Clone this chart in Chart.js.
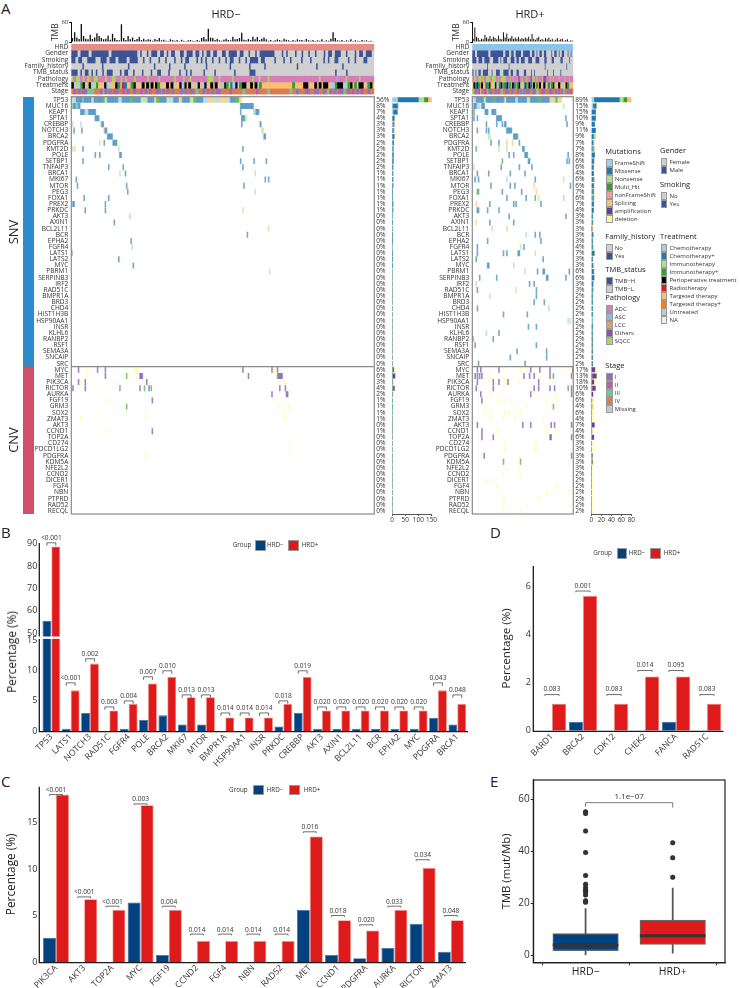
<!doctype html>
<html><head><meta charset="utf-8">
<style>
html,body{margin:0;padding:0;background:#fff}
body{width:740px;height:988px;position:relative;overflow:hidden;font-family:'Open Sans',sans-serif;color:#222}
canvas{position:absolute}
.t{position:absolute;white-space:nowrap;line-height:1}
.s{position:absolute;box-sizing:border-box;border:.5px solid #999}
</style>
<script src="https://cdn.jsdelivr.net/npm/chart.js@4"></script>
</head><body>
<script>
// ---------- Panel A data ----------
const snvGenes=["TP53","MUC16","KEAP1","SPTA1","CREBBP","NOTCH3","BRCA2","PDGFRA","KMT2D","POLE","SETBP1","TNFAIP3","BRCA1","MKI67","MTOR","PEG3","FOXA1","PREX2","PRKDC","AKT3","AXIN1","BCL2L11","BCR","EPHA2","FGFR4","LATS1","LATS2","MYC","PBRM1","SERPINB3","IRF2","RAD51C","BMPR1A","BRD3","CHD4","HIST1H3B","HSP90AA1","INSR","KLHL6","RANBP2","RSF1","SEMA3A","SNCAIP","SRC"];
const cnvGenes=["MYC","MET","PIK3CA","RICTOR","AURKA","FGF19","GRM3","SOX2","ZMAT3","AKT3","CCND1","TOP2A","CD274","PDCD1LG2","PDGFRA","KDM5A","NFE2L2","CCND2","DICER1","FGF4","NBN","PTPRD","RAD52","RECQL"];
const pctNeg=[56,8,7,4,3,3,3,2,2,2,2,2,1,1,1,1,1,1,1,0,0,0,0,0,0,0,0,0,0,0,0,0,0,0,0,0,0,0,0,0,0,0,0,0,6,6,3,4,2,1,1,1,1,0,1,0,0,0,0,0,0,0,0,0,0,0,0,0];
const pctPos=[89,15,15,10,9,11,9,7,7,8,6,6,4,6,6,7,6,7,4,3,3,3,3,3,4,7,3,3,6,6,3,3,2,2,2,2,2,2,2,2,2,2,2,2,17,13,18,10,6,6,4,6,4,7,4,6,3,3,3,3,3,2,2,2,2,2,2,2];
const patientsNeg=271, patientsPos=89;
const tmbNeg=[12,30,14,9,55,18,10,8,22,9,14,27,18,12,8,10,20,7,25,12,6,5,54,12,6,18,8,14,6,9,15,6,10,5,8,7,4,9,6,12,5,7,4,3,8,5,4,6,3,7,4,3,5,6,4,3,6,4,12,15,8,40,14,12,6,9,5,4,7,10,6,5,16,8,9,12,28,7,5,9,6,16,8,15,6,10,14,8,4,6,3,5,8,6,4,10,7,5,3,6,4,8,5,6,4,9,5,4,6,3,5,4,8,3,5,4,10,30,12,5,4,6,3,5,4,8,3,5,4,3,6,4,5,3,4,2];
const tmbPos=[10,44,16,12,6,10,8,22,14,10,18,9,16,12,8,20,10,8,30,14,26,10,12,18,9,14,10,16,8,12,9,14,11,16,8,24,10,7,12,16,6,9,5,12,8,14,6,10,4,7,12,5,8,10,4,6,8,3,5,4];
const trackNames=["HRD","Gender","Smoking","Family_history","TMB_status","Pathology","Treatment","Stage"];
const genderNeg="bbbgbbbbgbbbbbbbbgbbbbbbbbbbbbgbggbgbbbgbbgbgbbggbbgbbbgbbgbgbbgbbgg"+"bbgbbbbgbbggbggbgbbbbbbbgggbgbgggbggbggbggbgggbgbbgbbbggbgggbgbbgbbbg";
const smokingNeg="bbgbbggbbbbggbbbgbbbgbbbbgbbbbggbggbgggbggbgggbggbgbbgggbgbgbggbggbg"+"gbgbbggbggbgbbbbgbbggggbgggbggbggggbgggbgggggbgbggbbggggbggbgggbbggg";
const familyNeg="gggggbggggggggbgggggggggggbgggggggggggbggggggbggggggbgggggggggbggggggg"+"gggbggggggggbggggggbggggggggggggggbggggggggbgggggggggggbgggggggggggggg";
const statusNeg="bbbgbgbbgbgbggbgbbbgggbgbbggbgggbgggbggbbgggbggggbggbgbgggggbggggbgg"+"ggggggbggggggbbbggggggggggggggggggggggggggggggggggggbggggbgggggggggggg";
const pathologyNeg="qaqqaqaqlaqqaaaqaaqqaaqaqaaaqaaaaaqaaaaqaaaaaaqaaaqaaqaaaaaaaqqqaaqa"+"aaaaqaaaaaaaaqaaqaaaqaaaaaaaaaaaaaaaaaaaaaaqaaaaaaasaaaqaaaaaqaaaaaa";
const treatmentNeg="pgicIpgtpciItgtpcgttpIgrCtgIptgtptpgptpItgtptpgttpcptpgtcptcpgtptpgt"+"cpItCcpgIppgtptpgIttttttttttttttIttttpptgtptptpptgcIpppcgIptItpptgIpt";
const stageNeg="42414213334442314142144241441442414244214142414441414214344142414214"+"44424444434444424444344444444434414442144214414324142134142414244144";
const genderPos="bbgbbbbbbbbgbbbbbbbbbgbbbgbbgbbbbgbbbbbgbbgbgbbgbbgggbgbbgbgbbggbgbg";
const smokingPos="bbbgbbbgbbbbggbbbbgbgbbbggbbbgbbgbbbggbbbggbbbgggbbgggbbggggbbggggbgg";
const familyPos="ggggggggggbggggggggggggggbggggggggggggggggggggggggbggggggggggggggbgggg";
const statusPos="bgbgbbgbbbbggbggbbbggbbbbgbbggbbgggbbgggbgbggggggggbgggbggggbgggggggg";
const pathologyPos="aqqaqqlqaqqqaqqqaqaqqqqaaqaqaaqoaqaaqaaoqqaqaaaqooaaqaqaaaqaaaqaaqaa";
const treatmentPos="tpCpItpgtCIpttipgtCptICpgItpCtIpgtcpItpCgptItptgpgtCtIptgtptcgtpItgt";
const stagePos="34142m4424312441424344214414442413142144213m44214441244142413441424";

// Oncoplot events: [row, first patient, number of patients (default 1)]
const negFrameShift=[[0,0,4],[0,18,2],[0,42,3],[0,66,2],[0,88,3],[0,118,4],[0,130,3],[1,4,2],[2,12,3],[2,163,1],[4,8],[24,54]];
const negMissense=[[0,4,6],[0,11,7],[0,20,8],[0,32,10],[0,45,7],[0,55,7],[0,68,6],[0,79,6],[0,91,5],[0,99,7],[0,112,6],[0,142,4],[1,2,6],[1,151,12],[2,8,4],[2,15,7],[2,151],[2,165,3],[3,21,4],[3,152,3],[4,27,2],[4,152],[4,169],[5,2],[5,9],[5,30,2],[6,32,5],[6,172,2],[7,29],[7,37,4],[8,10],[8,153],[9,21],[9,25],[9,43,2],[10,10],[10,151],[10,163],[10,174],[11,33],[11,46],[11,153],[12,48],[13,4],[13,173],[13,176],[14,5],[14,49],[14,154],[15,50],[16,11],[16,33],[17,1,2],[17,30],[18,12],[18,30],[20,38],[22,157],[23,53],[25,0],[26,42],[27,55]];
const negNonsense=[[0,10],[0,30,2],[0,62,4],[0,85,3],[0,106,3],[0,126,4],[0,138,4],[1,0],[2,163,2],[3,155,2],[4,26],[5,170],[5,171],[8,1],[8,3],[8,42],[12,43],[12,164],[15,164],[18,153],[28,177]];
const negMultiHit=[[0,28,2],[0,52,3],[0,76,3],[0,109,3],[0,146,4],[1,1],[45,49],[47,43],[47,65],[47,71],[45,184],[50,49]];
const negNonFrame=[[4,168],[5,29],[19,52]];
const negSplicing=[[0,74,2],[0,96,3],[0,122,4],[0,133,5],[0,150,2],[4,1],[7,25],[21,176]];
const negAmp=[[44,6],[44,23],[44,30],[44,153],[44,179],[44,184],[45,30],[45,61,3],[45,158],[45,185,4],[46,6],[46,12],[46,67],[47,1],[47,12],[47,61],[47,69],[47,186],[47,191],[48,179],[48,192,2],[49,72],[54,72]];
const negDeletion=[[44,13],[44,56,4],[44,180,3],[45,14],[45,52],[46,8],[46,66],[46,190],[49,31],[50,185],[50,194],[51,66],[51,190],[52,8],[52,66],[52,190],[54,31],[56,195],[57,195],[58,65]];
const posFrameShift=[[0,0,3],[0,38,2],[1,4,3],[11,1],[13,30],[22,47],[27,36],[30,3],[32,15],[34,67],[36,84],[36,86],[38,12]];
const posMissense=[[0,3,7],[0,12,6],[0,20,8],[0,30,8],[0,40,8],[0,51,7],[0,61,7],[1,1,3],[1,8,3],[2,1],[2,11,3],[2,17,4],[3,1],[3,4],[3,21,5],[3,82],[4,12],[4,21],[4,26],[4,28,2],[4,83],[5,4],[5,12],[5,14],[5,30,5],[6,36,4],[7,16],[7,23],[7,41],[8,44,2],[9,32],[9,36],[9,46,3],[9,84],[10,49,2],[10,83],[10,85],[11,25],[11,41],[11,52],[12,4],[12,14],[12,33],[12,46],[13,2],[13,5],[13,55],[14,16],[14,33],[14,37],[14,86],[15,26],[15,43],[16,30],[16,47],[17,15],[17,36],[17,38],[17,60],[18,4,2],[18,13],[18,23],[19,32],[19,82],[20,15],[20,36],[22,55],[22,59],[23,13],[23,60],[24,4],[24,45],[25,4],[25,27],[25,30],[25,40],[25,41],[26,3],[26,62],[27,13,2],[28,57],[28,62,2],[28,85],[29,6],[29,21],[29,65,2],[29,82],[30,50],[30,54],[31,4],[31,56],[32,56],[33,54],[33,63],[34,4],[35,27],[35,48],[37,49],[37,56],[38,23],[39,0],[39,18],[40,2],[40,56],[41,39],[41,65],[42,33],[42,65],[43,5],[43,46]];
const posNonsense=[[0,10,2],[0,48,3],[0,71,2],[0,78],[1,80],[6,14,2],[6,40],[8,23],[8,30],[13,80],[16,58],[24,42],[25,55],[31,38]];
const posMultiHit=[[0,18,2],[0,58,3],[0,73,2],[8,3],[10,26],[15,4,2],[16,55],[45,71],[47,84],[50,71],[59,27],[59,42]];
const posNonFrame=[[16,80]];
const posSplicing=[[0,28,2],[0,68,3],[0,75,3],[7,30],[7,35],[14,54],[15,56],[17,3],[20,3],[21,17],[21,30],[28,46]];
const posAmp=[[44,4],[44,7],[44,23],[44,51],[44,59],[44,68],[44,88],[45,2],[45,4],[45,6],[45,8],[45,45],[45,50],[45,54],[45,68],[45,87],[46,4],[46,18],[46,23],[46,31],[46,58],[47,3],[47,18],[47,54],[47,58],[47,68],[47,72],[47,87],[48,7],[48,51],[48,87],[49,8],[53,4],[53,44],[53,51],[53,69],[53,72],[53,87],[54,8],[55,8],[55,18],[55,68,2],[55,87],[58,10],[58,87]];
const posDeletion=[[44,27],[44,42],[44,47],[44,86],[45,15],[46,14],[46,28],[46,30],[46,41],[46,62],[48,16],[48,73],[49,21],[49,28],[49,65],[49,74],[50,11],[50,36],[50,48],[51,11],[51,16],[51,28],[51,32],[51,42],[52,16],[52,27],[52,37],[52,62],[54,21],[54,65],[54,74],[56,28],[56,55],[56,57],[57,28],[57,55],[57,57],[58,41],[59,85],[60,29],[60,41],[61,27],[61,42],[62,11],[62,16],[63,21],[63,74],[64,65],[64,85],[65,28],[65,58],[66,27],[66,85],[67,27],[67,42]];

// ---------- Panel B/C/D/E data ----------
const genesB=["TP53","LATS1","NOTCH3","RAD51C","FGFR4","POLE","BRCA2","MKI67","MTOR","BMPR1A","HSP90AA1","INSR","PRKDC","CREBBP","AKT3","AXIN1","BCL2L11","BCR","EPHA2","MYC","PDGFRA","BRCA1"];
const negB=[55.6,.37,3,0,.37,1.85,2.6,1.1,1.1,0,0,0,.74,3,.37,.37,.37,.37,.37,.37,2.2,1.1];
const posB=[88.8,6.75,11.2,3.4,4.5,7.9,9,5.6,5.6,2.25,2.25,2.25,4.5,9,3.4,3.4,3.4,3.4,3.4,3.4,6.75,4.5];
const pB=["<0.001","<0.001","0.002","0.003","0.004","0.007","0.010","0.013","0.013","0.014","0.014","0.014","0.018","0.019","0.020","0.020","0.020","0.020","0.020","0.020","0.043","0.048"];
const bracketB=[90.5,8,12,4,5,9,10,6,6,3,3,3,5,10,4,4,4,4,4,4,8,6];
const genesC=["PIK3CA","AKT3","TOP2A","MYC","FGF19","CCND2","FGF4","NBN","RAD52","MET","CCND1","PDGFRA","AURKA","RICTOR","ZMAT3"];
const negC=[2.6,0,0,6.4,.75,0,0,0,0,5.6,.75,.4,1.5,4.1,1.1];
const posC=[18,6.75,5.6,16.85,5.6,2.25,2.25,2.25,2.25,13.5,4.5,3.4,5.6,10.1,4.5];
const pC=["<0.001","<0.001","<0.001","0.003","0.004","0.014","0.014","0.014","0.014","0.016","0.018","0.020","0.033","0.034","0.048"];
const bracketC=[18,7,6,17,6,3,3,3,3,14,5,4,6,11,5];
const genesD=["BARD1","BRCA2","CDK12","CHEK2","FANCA","RAD51C"];
const negD=[0,.37,0,0,.37,0];
const posD=[1.12,5.6,1.12,2.25,2.25,1.12];
const pD=["0.083","0.001","0.083","0.014","0.095","0.083"];
const bracketD=[1.5,5.8,1.5,2.5,2.5,1.5];
const groupsE=["HRD−","HRD+"];
const q1E=[1.8,4.2], medianE=[4,7.5], q3E=[8.3,13.5], whiskerLowE=[0,.8], whiskerHighE=[18,25.8];
const outliersNegE=[55.2,54.5,47.8,39.5,30.7,27.3,26,25,24.3,23.2,21,20.4];
const outliersPosE=[43.3,37.5,30];
const pE="1.1e−07", bracketE=58.7;

// ---------- Colours ----------
const BLUE='#03417F', RED='#DF1A1A';
const typeColors={FrameShift:'#A6CEE3',Missense:'#1F78B4',Nonsense:'#B2DF8A',Multi_Hit:'#33A02C',nonFrameShift:'#FB9A99',Splicing:'#FDBF6F',amplification:'#6A3D9A',deletion:'#FFFF99'};
const binary={g:'#D0D0D0',b:'#3C5396'};
const pathCol={a:'#D77DB8',s:'#91B5E0',l:'#D9A562',o:'#8F52A5',q:'#A9D46A'};
const treatCol={c:'#A6CEE3',C:'#1F78B4',i:'#B2DF8A',I:'#33A02C',p:'#000000',r:'#E31A1C',t:'#FDBF6F',T:'#FF7F00',g:'#C8C8C8',n:'#F2EFE6'};
const stageCol={1:'#8676C0',2:'#BE5CA6',3:'#76C492',4:'#DB7B52',m:'#C9C9C9'};
const TXT='#333';
const FF="'Open Sans',sans-serif";

Chart.defaults.font.family=FF; Chart.defaults.color=TXT;

// ---------- helpers ----------
function t(text,x,y,size,o={}){
  const d=document.createElement('div'); d.className='t'; d.textContent=text;
  d.style.cssText=`left:${x}px;top:${y}px;font-size:${size}px;transform:${o.rot?'translate(-50%,-50%) rotate(-90deg)':(o.center?'translate(-50%,-50%)':'translateY(-50%)')};color:${o.color||'#222'}`;
  document.body.appendChild(d);
}
function sw(x,y,w,h,c){const d=document.createElement('div');d.className='s';d.style.cssText=`left:${x}px;top:${y-h/2}px;width:${w}px;height:${h}px;background:${c}`;document.body.appendChild(d);}
function mk(box,area,flags,build){
  const c=document.createElement('canvas');c.width=box.x1-box.x0;c.height=box.y1-box.y0;
  c.style.left=box.x0+'px';c.style.top=box.y0+'px';c.style.width=c.width+'px';c.style.height=c.height+'px';document.body.appendChild(c);
  const m={L:area.x0-box.x0,R:box.x1-area.x1,T:area.y0-box.y0,B:box.y1-area.y1};
  const cfg=build(m);
  cfg.options=Object.assign({responsive:false,animation:false,events:[],devicePixelRatio:1},cfg.options);
  cfg.options.layout={autoPadding:false,padding:{left:flags.left?0:m.L,right:flags.right?0:m.R,top:m.T,bottom:flags.bottom?0:m.B}};
  cfg.options.plugins=Object.assign({legend:{display:false},tooltip:{enabled:false}},cfg.options.plugins||{});
  return new Chart(c,cfg);
}
const noPad=s=>{s.paddingTop=0;s.paddingBottom=0;s.paddingLeft=0;s.paddingRight=0;};
const fixW=w=>s=>{s.width=w;noPad(s)}, fixH=h=>s=>{s.height=h;noPad(s)};
const at=vals=>s=>{s.ticks=vals.map(v=>({value:v}))};
const hide={display:false,drawTicks:false};
const noBorder={display:false};
const allGenes=snvGenes.concat(cnvGenes);
const rowIdx=allGenes.map((_,i)=>i);

function cells(list){const out=[];for(const [r,s,n=1] of list)for(let i=0;i<n;i++)out.push({x:[s+i+.08,s+i+.92],y:r});return out;}
function tally(list){const out=allGenes.map((_,i)=>({x:0,y:i}));for(const [r,,n=1] of list)out[r].x+=n;return out;}

// oncoplot chart
function onco(box,area,n,lists,pct){
  mk(box,area,{left:true,right:true,bottom:false},m=>({type:'bar',
    data:{datasets:Object.keys(typeColors).map((k,i)=>({label:k,data:cells(lists[i]),backgroundColor:typeColors[k]+'A0',borderWidth:0,barThickness:5.3,grouped:false}))},
    options:{indexAxis:'y',scales:{
      x:{type:'linear',min:0,max:n,display:false},
      y:{type:'linear',offset:false,min:-.5,max:67.5,reverse:true,position:'left',grid:hide,border:noBorder,afterFit:fixW(m.L),afterBuildTicks:at(rowIdx),
         ticks:{autoSkip:false,padding:3,font:{size:6.6},color:TXT,callback:v=>allGenes[v]}},
      y1:{type:'linear',offset:false,min:-.5,max:67.5,reverse:true,position:'right',grid:hide,border:noBorder,afterFit:fixW(m.R),afterBuildTicks:at(rowIdx),
         ticks:{autoSkip:false,padding:2,font:{size:6.6},color:TXT,callback:v=>pct[v]+'%'}}
    }},
    plugins:[{id:'frame',afterDatasetsDraw(c){const a=c.chartArea,x=c.ctx,yy=c.scales.y.getPixelForValue(snvGenes.length-.5);
      x.save();x.strokeStyle='#8a8a8a';x.lineWidth=1.2;x.strokeRect(a.left,a.top,a.width,a.height);x.beginPath();x.moveTo(a.left,yy);x.lineTo(a.right,yy);x.stroke();x.restore();}}]
  }));
}
function stackBars(box,area,maxV,tickVals,lists){
  mk(box,area,{left:false,right:false,bottom:true},m=>({type:'bar',
    data:{datasets:Object.keys(typeColors).map((k,i)=>({label:k,data:tally(lists[i]),backgroundColor:typeColors[k],borderWidth:0,barThickness:4.4}))},
    options:{indexAxis:'y',scales:{
      x:{type:'linear',min:0,max:maxV,stacked:true,afterFit:fixH(m.B),afterBuildTicks:at(tickVals),border:{color:'#555',width:1},grid:{drawOnChartArea:false,color:'#555',tickLength:2},ticks:{autoSkip:false,padding:0,font:{size:6.4},color:TXT,maxRotation:0}},
      y:{type:'linear',offset:false,min:-.5,max:67.5,reverse:true,stacked:true,display:false}
    }}
  }));
}
function tmbChart(box,area,vals){
  mk(box,area,{left:true,right:false,bottom:false},m=>({type:'bar',
    data:{labels:vals.map((_,i)=>i+1),datasets:[{label:'TMB',data:vals,backgroundColor:'#111',borderWidth:0,barPercentage:.6,categoryPercentage:1}]},
    options:{scales:{x:{display:false},
      y:{min:0,max:60,afterFit:fixW(m.L),afterBuildTicks:at([0,30,60]),grid:{drawOnChartArea:false,color:'#111',tickLength:2},border:{color:'#111'},
         title:{display:true,text:'TMB',font:{size:8.5},color:TXT,padding:{top:m.L-21,bottom:0}},ticks:{padding:1,font:{size:6},color:TXT}}}}
  }));
}
function trackChart(box,area,n,hrdColor,tracks){
  const ds=[{label:'HRD',data:[{x:[0,n],y:0}],backgroundColor:hrdColor,borderWidth:0,barThickness:5.8,grouped:false}];
  tracks.forEach(([str,col],row)=>{
    const w=n/str.length;
    Object.keys(col).forEach(code=>{
      const data=[];[...str].forEach((ch,i)=>{if(ch===code)data.push({x:[i*w,(i+1)*w],y:row+1});});
      if(data.length)ds.push({label:trackNames[row+1]+' '+code,data,backgroundColor:col[code],borderWidth:0,barThickness:6.3,grouped:false});
    });
  });
  mk(box,area,{left:true,right:false,bottom:false},m=>({type:'bar',data:{datasets:ds},
    options:{indexAxis:'y',scales:{x:{type:'linear',min:0,max:n,display:false},
      y:{type:'linear',offset:false,min:-.5,max:7.5,reverse:true,grid:hide,border:noBorder,afterFit:fixW(m.L),afterBuildTicks:at(trackNames.map((_,i)=>i)),
         ticks:{autoSkip:false,padding:3,font:{size:6.6},color:TXT,callback:v=>trackNames[v]}}}}
  }));
}
const listsNeg=[negFrameShift,negMissense,negNonsense,negMultiHit,negNonFrame,negSplicing,negAmp,negDeletion];
const listsPos=[posFrameShift,posMissense,posNonsense,posMultiHit,posNonFrame,posSplicing,posAmp,posDeletion];

// Panel A left
tmbChart({x0:30,y0:18,x1:376,y1:44},{x0:71.3,y0:22.3,x1:374.3,y1:42},tmbNeg);
trackChart({x0:0,y0:43,x1:376,y1:96},{x0:71.3,y0:44,x1:374.3,y1:94.4},patientsNeg,'#E58E86',[[genderNeg,binary],[smokingNeg,binary],[familyNeg,binary],[statusNeg,binary],[pathologyNeg,pathCol],[treatmentNeg,treatCol],[stageNeg,stageCol]]);
onco({x0:0,y0:92,x1:392,y1:518},{x0:71.3,y0:96.7,x1:374.3,y1:514},patientsNeg,listsNeg,pctNeg);
stackBars({x0:386,y0:92,x1:440,y1:526},{x0:392,y0:96.7,x1:431.5,y1:514},150,[0,50,100,150],listsNeg);
// Panel A right
tmbChart({x0:431,y0:18,x1:578,y1:44},{x0:472.3,y0:22.3,x1:573.3,y1:42},tmbPos);
trackChart({x0:400,y0:43,x1:578,y1:96},{x0:472.3,y0:44,x1:573.3,y1:94.4},patientsPos,'#8DC5E8',[[genderPos,binary],[smokingPos,binary],[familyPos,binary],[statusPos,binary],[pathologyPos,pathCol],[treatmentPos,treatCol],[stagePos,stageCol]]);
onco({x0:430,y0:92,x1:590,y1:518},{x0:472.3,y0:96.7,x1:573.3,y1:514},patientsPos,listsPos,pctPos);
stackBars({x0:586,y0:92,x1:638,y1:526},{x0:591.3,y0:96.7,x1:631.3,y1:514},80,[0,20,40,60,80],listsPos);

// text, sidebar, legends of A
t('A',1,8,15);t('B',1,532,15);t('C',1,781,15);t('D',490,532,15);t('E',490,781,15);
t('HRD−',226,13,11,{center:true});t('HRD+',530,13,11,{center:true});
t('SNV',13,232,13,{rot:true});t('CNV',13,440,13,{rot:true});
function bar(x,y0,y1,c){const d=document.createElement('div');d.className='s';d.style.cssText=`left:${x}px;top:${y0}px;width:11px;height:${y1-y0}px;background:${c};border:1px solid #777`;document.body.appendChild(d);}
bar(23.3,96.7,366.7,'#2B8BCB');bar(23.3,366.7,514,'#CF5068');
function legend(title,x,y,items,dy=8,ts=7.5){
  t(title,x,y,ts);
  items.forEach(([label,col],i)=>{const yy=y+11+i*dy;sw(x+.5,yy,6.8,8,col);t(label,x+9.5,yy,6,{color:'#333'});});
}
legend('Mutations',605.3,152,Object.keys(typeColors).map(k=>[k,typeColors[k]]));
legend('Gender',660,151,[['Female',binary.g],['Male',binary.b]]);
legend('Smoking',660,185,[['No',binary.g],['Yes',binary.b]]);
legend('Family_history',605.3,237,[['No',binary.g],['Yes',binary.b]]);
legend('Treatment',660,237,[['Chemotherapy',treatCol.c],['Chemotherapy+',treatCol.C],['Immunotherapy',treatCol.i],['Immunotherapy+',treatCol.I],['Perioperative treatment',treatCol.p],['Radiotherapy',treatCol.r],['Targeted therapy',treatCol.t],['Targeted therapy+',treatCol.T],['Untreated',treatCol.g],['NA',treatCol.n]]);
legend('TMB_status',605.3,270,[['TMB−H',binary.b],['TMB−L',binary.g]]);
legend('Pathology',605.3,298,[['ADC',pathCol.a],['ASC',pathCol.s],['LCC',pathCol.l],['Others',pathCol.o],['SQCC',pathCol.q]]);
legend('Stage',605.3,366,[['I',stageCol[1]],['II',stageCol[2]],['III',stageCol[3]],['IV',stageCol[4]],['Missing',stageCol.m]]);

// ---------- bar panels ----------
function barSet(label,data,col,edge,extra={}){return Object.assign({label,data,backgroundColor:col,borderColor:edge,borderWidth:.8,categoryPercentage:.92,barPercentage:1},extra);}
function axesPlugin(off){return {id:'axesL',afterDatasetsDraw(c){const a=c.chartArea,x=c.ctx;x.save();x.strokeStyle='#1a1a1a';x.lineWidth=1.3;x.beginPath();x.moveTo(a.left-off,a.top);x.lineTo(a.left-off,a.bottom+.6);x.lineTo(a.right+1,a.bottom+.6);x.stroke();x.restore();}};}
function bracketsPlugin(labels,ys,axisOf,drop,lift){return {id:'brackets',afterDatasetsDraw(c){
  const x=c.ctx,sx=c.scales.x,bw=sx.width/labels.length*.92/2;
  x.save();x.strokeStyle='#333';x.fillStyle='#333';x.lineWidth=.7;x.font="6.6px "+FF;x.textAlign='center';x.textBaseline='middle';
  labels.forEach((l,i)=>{const xc=sx.getPixelForValue(i),y=c.scales[axisOf(i)].getPixelForValue(ys[i]);
    x.beginPath();x.moveTo(xc-bw/2,y+drop);x.lineTo(xc-bw/2,y);x.lineTo(xc+bw/2,y);x.lineTo(xc+bw/2,y+drop);x.stroke();
    x.fillText(l,xc,y-lift);});
  x.restore();}};}
function groupLegend(y,xg,xs1,xt1,xs2,xt2){t('Group',xg,y,6.3,{color:'#333'});sw(xs1,y,10.8,10.8,BLUE);t('HRD−',xt1,y,6.3,{color:'#333'});sw(xs2,y,10.8,10.8,RED);t('HRD+',xt2,y,6.3,{color:'#333'});}

const xTicks={autoSkip:false,maxRotation:45,minRotation:45,padding:1,font:{size:8.6},color:TXT};
const yTicksBase={padding:4.4,font:{size:9},color:TXT};
const EDGE_B='#3A73AC',EDGE_R='#F28B82';

// Panel B (broken axis: two stacked scales)
const breakMin=48;
mk({x0:0,y0:530,x1:472,y1:772},{x0:41.7,y0:543,x1:467,y1:731},{left:true,right:false,bottom:true},m=>({type:'bar',
  data:{labels:genesB,datasets:[
    barSet('HRD−',negB,BLUE,EDGE_B,{yAxisID:'yLow',stack:'neg'}),
    barSet('HRD+',posB,RED,EDGE_R,{yAxisID:'yLow',stack:'pos'}),
    barSet('HRD− high',negB.map(v=>v>breakMin?v:null),BLUE,EDGE_B,{yAxisID:'yHigh',stack:'neg'}),
    barSet('HRD+ high',posB.map(v=>v>breakMin?v:null),RED,EDGE_R,{yAxisID:'yHigh',stack:'pos'})]},
  options:{scales:{
    x:{grid:hide,border:noBorder,afterFit:fixH(m.B),ticks:xTicks},
    yHigh:{type:'linear',min:breakMin,max:90.4,position:'left',stack:'y',stackWeight:94.7,weight:1,stacked:false,grid:hide,border:noBorder,afterFit:fixW(m.L),afterBuildTicks:at([50,60,70,80,90]),ticks:yTicksBase},
    yLow:{type:'linear',min:0,max:15.5,position:'left',stack:'y',stackWeight:93.3,weight:0,stacked:false,grid:hide,border:noBorder,afterFit:fixW(m.L),afterBuildTicks:at([0,5,10,15]),ticks:yTicksBase}
  }},
  plugins:[axesPlugin(2.4),{id:'seam',afterDatasetsDraw(c){const a=c.chartArea,x=c.ctx,y=c.scales.yLow.top;x.save();x.fillStyle='#fff';x.fillRect(a.left-5,y-1.2,a.width+6,2.4);x.restore();}},
    bracketsPlugin(pB,bracketB,i=>bracketB[i]>breakMin?'yHigh':'yLow',3,4.6)]
}));
t('Percentage (%)',12.3,651.7,11.8,{rot:true});
groupLegend(545.3,232.7,255,267,288.3,301.7);

// Panel C
mk({x0:0,y0:775,x1:470,y1:988},{x0:41.9,y0:786.7,x1:464.9,y1:962},{left:true,right:false,bottom:true},m=>({type:'bar',
  data:{labels:genesC,datasets:[barSet('HRD−',negC,BLUE,EDGE_B),barSet('HRD+',posC,RED,EDGE_R)]},
  options:{scales:{
    x:{grid:hide,border:noBorder,afterFit:fixH(m.B),ticks:xTicks},
    y:{type:'linear',min:0,max:18.85,grid:hide,border:noBorder,afterFit:fixW(m.L),afterBuildTicks:at([0,5,10,15]),ticks:yTicksBase,
       title:{display:true,text:'Percentage (%)',font:{size:11.8},color:'#222',padding:{top:5,bottom:0}}}
  }},
  plugins:[axesPlugin(2.6),bracketsPlugin(pC,bracketC,()=>'y',1.3,4.3)]
}));
groupLegend(790,229,253.3,266.7,289.3,303.7);

// Panel D
mk({x0:495,y0:560,x1:735,y1:772},{x0:536.5,y0:566,x1:722.5,y1:730.7},{left:true,right:false,bottom:true},m=>({type:'bar',
  data:{labels:genesD,datasets:[barSet('HRD−',negD,BLUE,EDGE_B),barSet('HRD+',posD,RED,EDGE_R)]},
  options:{scales:{
    x:{grid:hide,border:noBorder,afterFit:fixH(m.B),ticks:xTicks},
    y:{type:'linear',min:0,max:6.84,grid:hide,border:noBorder,afterFit:fixW(m.L),afterBuildTicks:at([0,2,4,6]),ticks:{padding:5.5,font:{size:9},color:TXT},
       title:{display:true,text:'Percentage (%)',font:{size:11.6},color:'#222',padding:{top:5,bottom:0}}}
  }},
  plugins:[axesPlugin(3.2),bracketsPlugin(pD,bracketD,()=>'y',1.3,5)]
}));
groupLegend(553.3,593.3,616.7,628.7,650.3,663.7);

// Panel E (box plot from floating bars + scatter)
const xE=[1,2];
mk({x0:495,y0:770,x1:735,y1:988},{x0:533.3,y0:780,x1:725,y1:962.7},{left:true,right:false,bottom:true},m=>({type:'bar',
  data:{datasets:[
    {type:'scatter',label:'HRD− outliers',data:outliersNegE.map(y=>({x:1,y})),backgroundColor:'#333',pointRadius:2.5,order:0},
    {type:'scatter',label:'HRD+ outliers',data:outliersPosE.map(y=>({x:2,y})),backgroundColor:'#333',pointRadius:2.5,order:0},
    {label:'median',data:xE.map((x,i)=>({x,y:[medianE[i]-.45,medianE[i]+.45]})),backgroundColor:'#333',borderWidth:0,barThickness:65,grouped:false,order:1},
    {label:'box',data:xE.map((x,i)=>({x,y:[q1E[i],q3E[i]]})),backgroundColor:[BLUE,RED],borderColor:'#666',borderWidth:1.1,borderSkipped:false,barThickness:65.5,grouped:false,order:2},
    {label:'whisker',data:xE.map((x,i)=>({x,y:[whiskerLowE[i],whiskerHighE[i]]})),backgroundColor:'#555',borderWidth:0,barThickness:1.1,grouped:false,order:3}]},
  options:{scales:{
    x:{type:'linear',offset:false,min:.4,max:2.6,grid:{drawOnChartArea:false,color:'#222',tickLength:2.5},border:{color:'#222',width:1.2},afterFit:fixH(m.B),afterBuildTicks:at(xE),ticks:{autoSkip:false,padding:1,font:{size:10.5},color:'#222',maxRotation:0,callback:v=>groupsE[v-1]}},
    y:{type:'linear',min:-2.85,max:67.4,grid:{drawOnChartArea:false,color:'#222',tickLength:2.5},border:{color:'#222',width:1.2},afterFit:fixW(m.L),afterBuildTicks:at([0,20,40,60]),ticks:{padding:1,font:{size:10},color:TXT},
       title:{display:true,text:'TMB (mut/Mb)',font:{size:11.3},color:'#222',padding:{top:5,bottom:0}}}
  }},
  plugins:[{id:'box',afterDatasetsDraw(c){const a=c.chartArea,x=c.ctx,sx=c.scales.x,sy=c.scales.y;x.save();
    x.strokeStyle='#222';x.lineWidth=1.2;x.strokeRect(a.left,a.top,a.width,a.height);
    const y=sy.getPixelForValue(bracketE),x1=sx.getPixelForValue(1),x2=sx.getPixelForValue(2);
    x.strokeStyle='#444';x.lineWidth=.7;x.beginPath();x.moveTo(x1,y+4);x.lineTo(x1,y);x.lineTo(x2,y);x.lineTo(x2,y+5);x.stroke();
    x.fillStyle='#333';x.font="8px "+FF;x.textAlign='center';x.textBaseline='middle';x.fillText(pE,(x1+x2)/2,y-6);x.restore();}}]
}));
</script>
</body></html>
